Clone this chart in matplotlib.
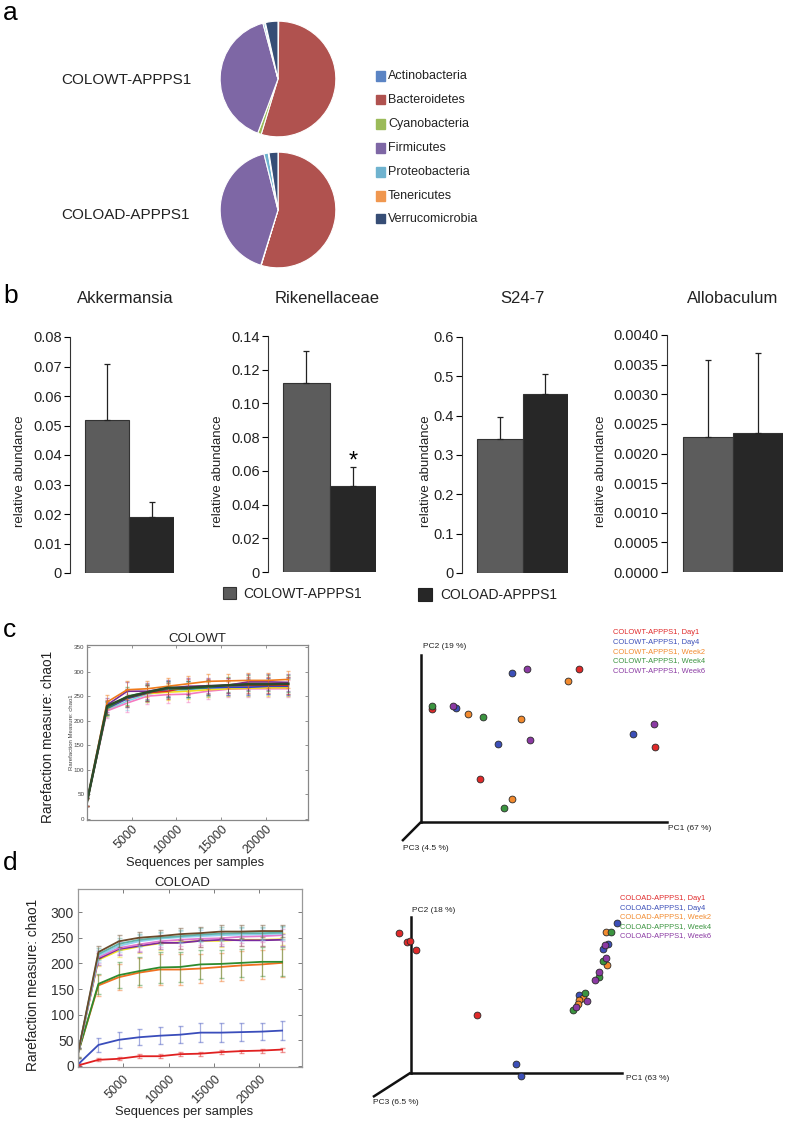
import numpy as np
import matplotlib.pyplot as plt

W, H = 787, 1123
plt.rcParams['font.family'] = ['Liberation Sans', 'DejaVu Sans']

# ---- panel a: phylum composition (%)
phyla = ['Actinobacteria', 'Bacteroidetes', 'Cyanobacteria', 'Firmicutes',
         'Proteobacteria', 'Tenericutes', 'Verrucomicrobia']
phyla_colors = ['#5b84c4', '#b0524f', '#9bbb59', '#7e67a5', '#6fb3cf', '#f0974f', '#364d75']
wt_phyla = [0.2, 54.5, 1.0, 40.1, 0.5, 0.2, 3.5]
ad_phyla = [0.1, 54.6, 0.1, 41.3, 1.2, 0.2, 2.5]
pie_groups = ['COLOWT-APPPS1', 'COLOAD-APPPS1']

# ---- panel b: relative abundance of selected taxa
taxa = ['Akkermansia', 'Rikenellaceae', 'S24-7', 'Allobaculum']
wt_mean = [0.052, 0.112, 0.340, 0.00228]
wt_sem = [0.019, 0.019, 0.057, 0.00129]
ad_mean = [0.019, 0.051, 0.455, 0.00234]
ad_sem = [0.005, 0.011, 0.050, 0.00136]
y_max = [0.08, 0.14, 0.6, 0.004]
y_step = [0.01, 0.02, 0.1, 0.0005]
y_fmt = ['{:.2f}', '{:.2f}', '{:.1f}', '{:.4f}']

# ---- panel c/d: rarefaction curves (chao1)
seq_depth = [0, 2250, 4500, 6750, 9000, 11250, 13500, 15750, 18000, 20250, 22500]

wt_orange = [35, 238, 263, 265, 270, 275, 280, 281, 282, 282, 284]
wt_purple = [35, 232, 260, 260, 266, 270, 271, 272, 279, 279, 278]
wt_red = [35, 228, 247, 257, 260, 268, 270, 272, 272, 272, 272]
wt_green = [35, 226, 250, 258, 265, 265, 268, 273, 276, 276, 276]
wt_dark = [35, 230, 248, 258, 267, 267, 270, 272, 274, 274, 275]
wt_blue = [35, 225, 245, 256, 264, 265, 267, 268, 268, 270, 270]
wt_yellow = [35, 224, 245, 255, 258, 260, 263, 265, 266, 267, 267]
wt_pink = [35, 220, 236, 250, 253, 254, 260, 264, 265, 265, 265]
wt_cyan = [35, 222, 240, 254, 260, 262, 264, 266, 267, 268, 268]
wt_gray = [35, 227, 246, 256, 262, 264, 266, 268, 270, 270, 271]
wt_err = [8, 14, 18, 16, 16, 16, 15, 15, 16, 16, 17]

ad_brown = [25, 222, 243, 250, 253, 257, 259, 262, 262, 263, 263]
ad_teal = [25, 218, 238, 246, 250, 253, 256, 258, 259, 259, 260]
ad_lightblue = [25, 215, 234, 243, 248, 251, 253, 255, 256, 257, 258]
ad_pink = [25, 212, 230, 237, 243, 246, 248, 249, 252, 253, 255]
ad_purple = [25, 209, 228, 234, 240, 240, 244, 246, 245, 245, 246]
ad_yellow = [25, 207, 225, 233, 239, 241, 244, 244, 246, 246, 247]
ad_green = [25, 160, 177, 185, 192, 193, 198, 199, 201, 203, 203]
ad_orange = [25, 157, 173, 182, 188, 188, 190, 193, 196, 198, 201]
ad_blue = [3, 41, 51, 56, 59, 61, 65, 65, 66, 67, 69]
ad_red = [1, 12, 14, 19, 19, 23, 24, 27, 29, 30, 32]
ad_err_high = [10, 12, 12, 12, 12, 12, 12, 12, 12, 12, 12]
ad_err_mid = [8, 20, 25, 28, 30, 30, 28, 28, 28, 28, 28]
ad_err_blue = [3, 14, 15, 16, 17, 17, 18, 18, 17, 17, 18]
ad_err_red = [1, 3, 3, 4, 4, 4, 4, 4, 3, 4, 4]

# ---- PCoA scores (scaled to axis length)
time_points = ['Day1', 'Day4', 'Week2', 'Week4', 'Week6']
time_colors = ['#e02a2a', '#3c4fb8', '#f28a2e', '#3b9440', '#8b3aa3']
wt_pc1 = [[0.046, 0.644, 0.240, 0.953], [0.142, 0.371, 0.312, 0.863],
          [0.192, 0.596, 0.408, 0.368], [0.046, 0.251, 0.336], [0.129, 0.430, 0.442, 0.949]]
wt_pc2 = [[0.675, 0.918, 0.259, 0.451], [0.683, 0.890, 0.465, 0.527],
          [0.647, 0.846, 0.615, 0.140], [0.695, 0.627, 0.084], [0.695, 0.914, 0.491, 0.587]]
ad_pc1 = [[-0.055, -0.019, -0.003, 0.024, 0.316],
          [0.499, 0.524, 0.976, 0.937, 0.913, 0.799],
          [0.926, 0.932, 0.818, 0.799, 0.794],
          [0.948, 0.913, 0.894, 0.828, 0.768],
          [0.921, 0.927, 0.894, 0.872, 0.837, 0.783]]
ad_pc2 = [[0.895, 0.837, 0.846, 0.786, 0.373],
          [0.054, -0.021, 0.960, 0.825, 0.793, 0.497],
          [0.902, 0.692, 0.478, 0.467, 0.439],
          [0.902, 0.715, 0.617, 0.514, 0.405],
          [0.818, 0.735, 0.647, 0.593, 0.462, 0.424]]

fig = plt.figure(figsize=(W / 100, H / 100), dpi=100)


def px_axes(x0, y0, x1, y1):
    return fig.add_axes([x0 / W, 1 - y1 / H, (x1 - x0) / W, (y1 - y0) / H])


def ftext(x, y, s, **kw):
    return fig.text(x / W, 1 - y / H, s, **kw)


# panel letters
for letter, ly in zip('abcd', [20, 303, 637, 870]):
    ftext(3, ly, letter, fontsize=19, va='baseline', ha='left')

# ---- a: pies
for vals, name, (y0, ly) in zip([wt_phyla, ad_phyla], pie_groups, [(20, 80), (151, 215)]):
    ax = px_axes(219, y0, 337, y0 + 118)
    ax.pie(vals, colors=phyla_colors, startangle=90, counterclock=False,
           wedgeprops=dict(edgecolor='white', linewidth=0.8))
    ax.set_xlim(-1.02, 1.02)
    ax.set_ylim(-1.02, 1.02)
    ax.set_aspect('equal')
    ftext(61, ly, name, fontsize=11, va='center', ha='left', color='#222')

leg_y = [76, 100, 124, 148, 172, 196, 219]
for name, col, yy in zip(phyla, phyla_colors, leg_y):
    fig.patches.append(plt.Rectangle((376 / W, 1 - (yy + 4.5) / H), 9 / W, 9 / H,
                                     transform=fig.transFigure, color=col))
    ftext(388, yy, name, fontsize=9, va='center', ha='left', color='#222')

# ---- b: bar charts
bar_boxes = [(70, 337, 174, 573), (268, 336, 376, 572), (462, 337, 568, 573), (667, 335, 783, 572)]
title_x = [125, 327, 522, 733]
ylab_x = [26, 224, 432, 607]
wt_gray_col = '#5c5c5c'
ad_dark_col = '#272727'
for i, name in enumerate(taxa):
    ax = px_axes(*bar_boxes[i])
    ax.bar([0, 1], [wt_mean[i], ad_mean[i]], width=1.0,
           color=[wt_gray_col, ad_dark_col], edgecolor='#333333', linewidth=0.8)
    ax.errorbar([0, 1], [wt_mean[i], ad_mean[i]],
                yerr=[[0, 0], [wt_sem[i], ad_sem[i]]], fmt='none',
                ecolor='#222', elinewidth=0.9, capsize=2.2, capthick=0.9)
    ax.set_xlim(-0.83, 1.5)
    ax.set_ylim(0, y_max[i])
    ticks = np.arange(0, y_max[i] + y_step[i] / 2, y_step[i])
    ax.set_yticks(ticks)
    labels = [y_fmt[i].format(t) for t in ticks]
    if i < 3:
        labels[0] = '0'
    ax.set_yticklabels(labels, fontsize=10.5, color='#222')
    ax.set_xticks([])
    for s in ['top', 'right', 'bottom']:
        ax.spines[s].set_visible(False)
    ax.spines['left'].set_linewidth(0.8)
    ax.spines['left'].set_color('#333')
    ax.tick_params(axis='y', direction='out', length=4, width=0.8, pad=2)
    ax.set_ylabel('relative abundance', fontsize=9.5, color='#222')
    ax.yaxis.set_label_coords(ylab_x[i] / W, 1 - 471 / H, transform=fig.transFigure)
    ftext(title_x[i], 298, name, fontsize=12, ha='center', va='center', color='#222')
    if name == 'Rikenellaceae':
        ax.text(1, 0.0655, '*', fontsize=17, ha='center', va='center')

fig.patches.append(plt.Rectangle((223 / W, 1 - 599 / H), 13 / W, 12 / H, transform=fig.transFigure,
                                 facecolor=wt_gray_col, edgecolor='#333', linewidth=0.8))
ftext(243, 594, 'COLOWT-APPPS1', fontsize=10, va='center', ha='left', color='#222')
fig.patches.append(plt.Rectangle((418 / W, 1 - 601 / H), 14 / W, 13 / H, transform=fig.transFigure,
                                 facecolor=ad_dark_col, edgecolor='#222', linewidth=0.8))
ftext(440, 595, 'COLOAD-APPPS1', fontsize=10, va='center', ha='left', color='#222')

# ---- c: COLOWT rarefaction
ax = px_axes(87, 645, 308, 820)
wt_series = [(wt_gray, '#8c8c8c'), (wt_cyan, '#7fd0ee'), (wt_pink, '#f47ac0'),
             (wt_yellow, '#f2df1c'), (wt_blue, '#2a3fcf'), (wt_red, '#d42a2a'),
             (wt_green, '#2c9a3a'), (wt_purple, '#7a2c94'), (wt_orange, '#f07a1a')]
for vals, col in wt_series:
    ax.errorbar(seq_depth, vals, yerr=wt_err, fmt='none', ecolor=col, alpha=0.5,
                elinewidth=0.7, capsize=1.5)
    ax.plot(seq_depth, vals, color=col, lw=1.2)
ax.plot(seq_depth, wt_dark, color='#2b4a2b', lw=1.8)
ax.set_xlim(0, 24700)
ax.set_ylim(-2, 354)
ax.set_yticks(range(0, 351, 50))
ax.set_yticklabels([str(v) for v in range(0, 351, 50)], fontsize=4.5, color='#444')
ax.set_xticks([5000, 10000, 15000, 20000])
ax.set_xticklabels(['5000', '10000', '15000', '20000'], fontsize=9, rotation=45,
                   ha='right', va='top', rotation_mode='anchor', color='#333')
ax.tick_params(direction='in', length=2.5, width=0.5, top=True, right=True, pad=2, colors='#666')
ax.tick_params(axis='x', labelcolor='#333', pad=2)
ax.tick_params(axis='y', labelcolor='#444')
for s in ax.spines.values():
    s.set_color('#888')
    s.set_linewidth(0.9)
ax.set_ylabel('Rarefaction Measure: chao1', fontsize=4.3, color='#444')
ax.yaxis.set_label_coords(74 / W, 1 - 732 / H, transform=fig.transFigure)
ftext(197, 639, 'COLOWT', fontsize=9.5, ha='center', va='center', color='#222')
ftext(48, 737, 'Rarefaction measure: chao1', fontsize=9.8, rotation=90,
      ha='center', va='center', color='#222')
ftext(195, 863, 'Sequences per samples', fontsize=9.3, ha='center', va='center', color='#222')

# ---- d: COLOAD rarefaction
ax = px_axes(78, 889, 302, 1067)
ad_series = [(ad_orange, '#f07020', ad_err_mid), (ad_green, '#2e8b2e', ad_err_mid),
             (ad_yellow, '#f4e21a', ad_err_high), (ad_purple, '#7a2aa0', ad_err_high),
             (ad_pink, '#e07ad0', ad_err_high), (ad_lightblue, '#8fd0f0', ad_err_high),
             (ad_teal, '#5fb3a8', ad_err_high), (ad_brown, '#6b4a2a', ad_err_high),
             (ad_blue, '#3a4dbb', ad_err_blue), (ad_red, '#e02020', ad_err_red)]
for vals, col, err in ad_series:
    ax.errorbar(seq_depth, vals, yerr=err, fmt='none', ecolor=col, alpha=0.45,
                elinewidth=0.9, capsize=1.8)
    ax.plot(seq_depth, vals, color=col, lw=1.3)
ax.set_xlim(0, 24700)
ax.set_ylim(-2, 345)
ax.set_yticks(range(0, 301, 50))
ax.set_yticklabels([str(v) for v in range(0, 301, 50)], fontsize=10, color='#333')
ax.set_xticks([5000, 10000, 15000, 20000])
ax.set_xticklabels(['5000', '10000', '15000', '20000'], fontsize=9, rotation=45,
                   ha='right', va='top', rotation_mode='anchor', color='#333')
ax.tick_params(direction='in', length=3, width=0.6, top=True, right=True, colors='#666')
ax.tick_params(axis='x', labelcolor='#333', pad=4)
ax.tick_params(axis='y', labelcolor='#333', pad=3)
for s in ax.spines.values():
    s.set_color('#999')
    s.set_linewidth(0.9)
ftext(182, 883, 'COLOAD', fontsize=9.5, ha='center', va='center', color='#222')
ftext(33, 985, 'Rarefaction measure: chao1', fontsize=9.8, rotation=90,
      ha='center', va='center', color='#222')
ftext(184, 1112, 'Sequences per samples', fontsize=9.3, ha='center', va='center', color='#222')


# ---- PCoA plots
def pcoa(box, pc1, pc2, pc3_end, labels, label_pos, group, leg_x, leg_y):
    ax = px_axes(*box)
    for xs, ys, col in zip(pc1, pc2, time_colors):
        ax.scatter(xs, ys, s=24, color=col, edgecolor='#2a2a2a', linewidth=0.6,
                   clip_on=False, zorder=3)
    ax.set_xlim(0, 1)
    ax.set_ylim(0, 1)
    ax.set_xticks([])
    ax.set_yticks([])
    for s in ['top', 'right']:
        ax.spines[s].set_visible(False)
    for s in ['left', 'bottom']:
        ax.spines[s].set_linewidth(1.8)
        ax.spines[s].set_color('#111')
    ax.plot([0, pc3_end[0]], [0, pc3_end[1]], color='#111', lw=1.8,
            transform=ax.transAxes, clip_on=False, solid_capstyle='butt')
    for txt, (x, y) in zip(labels, label_pos):
        ftext(x, y, txt, fontsize=6, ha='left', va='center', color='#222')
    for tp, col, yy in zip(time_points, time_colors, leg_y):
        ftext(leg_x, yy, group + ', ' + tp, fontsize=5.4, ha='left', va='center', color=col)


pcoa((421, 655, 667, 822), wt_pc1, wt_pc2, (-0.077, -0.114),
     ['PC2 (19 %)', 'PC1 (67 %)', 'PC3 (4.5 %)'], [(423, 647), (668, 829), (403, 849)],
     'COLOWT-APPPS1', 613, [633, 643, 652, 661, 671])
pcoa((410.7, 917, 621.7, 1072.7), ad_pc1, ad_pc2, (-0.179, -0.156),
     ['PC2 (18 %)', 'PC1 (63 %)', 'PC3 (6.5 %)'], [(412, 911), (626, 1079), (373, 1103)],
     'COLOAD-APPPS1', 620, [899, 908, 917, 926.5, 936])

fig.savefig('out.png', dpi=100)
